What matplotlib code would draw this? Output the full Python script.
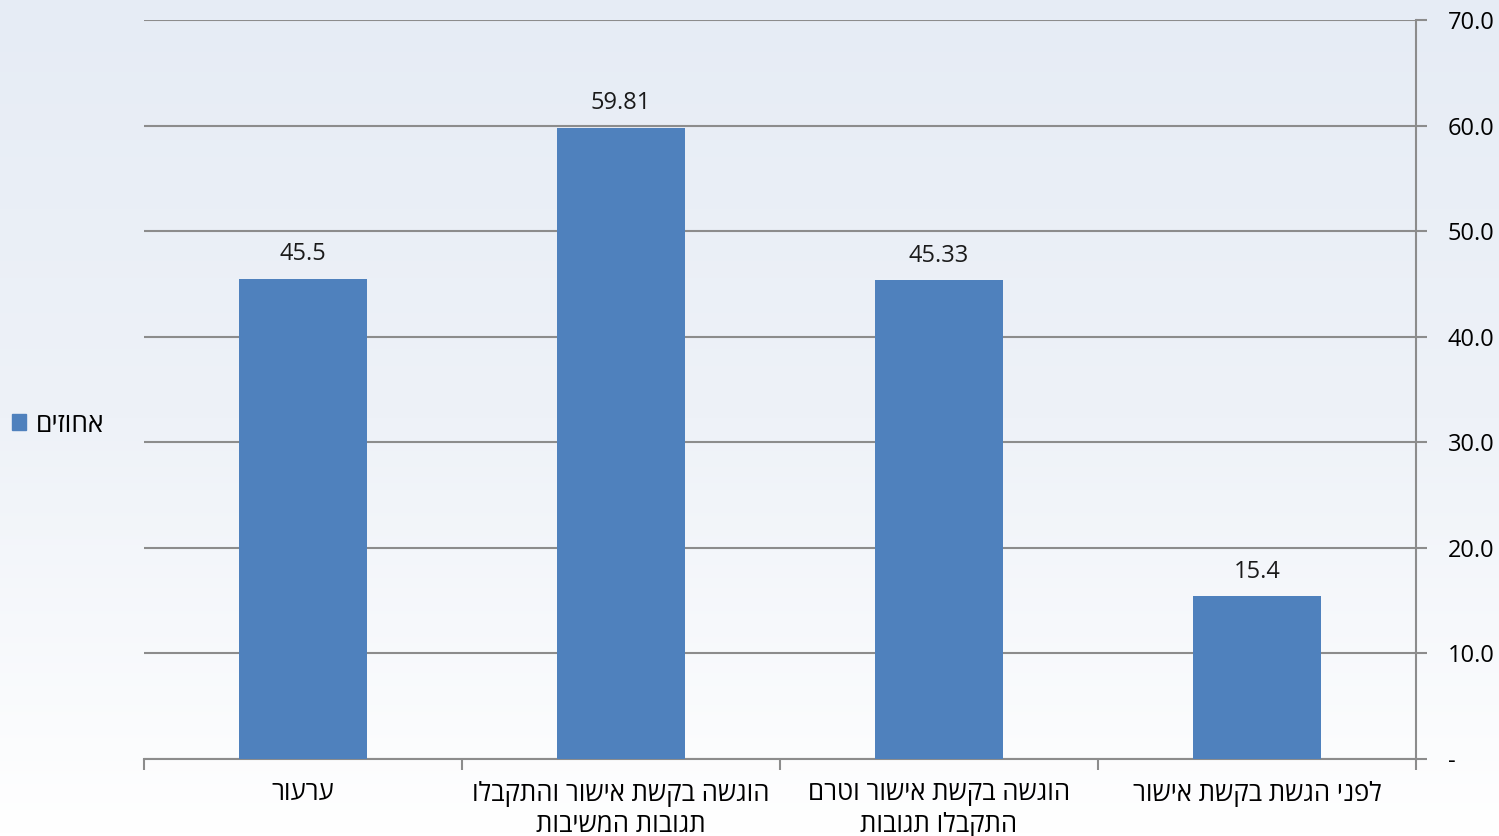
import numpy as np
import matplotlib
matplotlib.use("Agg")
import matplotlib.pyplot as plt
from matplotlib.patches import Patch

# data (right-to-left order, first category is drawn on the right)
categories = [
    "לפני הגשת בקשת אישור",
    "הוגשה בקשת אישור וטרם\nהתקבלו תגובות",
    "הוגשה בקשת אישור והתקבלו\nתגובות המשיבות",
    "ערעור",
]
values = [15.4, 45.33, 59.81, 45.5]
value_labels = ["15.4", "45.33", "59.81", "45.5"]
series_name = "אחוזים"
y_ticks = [0, 10, 20, 30, 40, 50, 60, 70]


def heb(s):
    # matplotlib has no bidi support, so flip each line into visual order
    return "\n".join(line[::-1] for line in s.split("\n"))


plt.rcParams['font.family'] = ['Open Sans', 'DejaVu Sans']
bar_color = "#4F81BD"
grid_color = "#8C8C8C"

fig = plt.figure(figsize=(14.99, 8.36), dpi=100)

# faint backdrop standing in for the washed-out photo
bg = fig.add_axes([0, 0, 1, 1], zorder=-10)
grad = np.linspace(0, 1, 256).reshape(-1, 1)
cmap = matplotlib.colors.LinearSegmentedColormap.from_list("bg", ["#E6ECF5", "#EEF2F8", "#FFFFFF"])
bg.imshow(grad, aspect="auto", cmap=cmap, extent=[0, 1, 0, 1])
bg.axis("off")

ax = fig.add_axes([144 / 1499, 1 - 759 / 836, (1416 - 144) / 1499, (759 - 20) / 836])
ax.patch.set_alpha(0)

x = np.arange(len(categories))
bars = ax.bar(x, values, width=0.4, color=bar_color, zorder=3)

for xi, v, lab in zip(x, values, value_labels):
    ax.text(xi, v + 1.2, lab, ha="center", va="bottom", fontsize=17, color="#1a1a1a")

ax.set_xlim(-0.5, len(categories) - 0.5)
ax.invert_xaxis()
ax.set_ylim(0, 70)

# y axis on the right
ax.yaxis.tick_right()
ax.set_yticks(y_ticks)
ax.set_yticklabels(["-"] + [f"{t:.1f}" for t in y_ticks[1:]], fontsize=17)
ax.tick_params(axis="y", direction="out", length=8, width=1.5, color=grid_color, pad=15)
ax.grid(axis="y", color=grid_color, linewidth=1.5, zorder=0)

# category ticks between groups, labels centred under bars
ax.set_xticks(np.arange(-0.5, len(categories), 1.0))
ax.set_xticklabels([])
ax.set_xticks(x, minor=True)
ax.set_xticklabels([heb(c) for c in categories], minor=True, fontsize=18.5, linespacing=1.3)
ax.tick_params(axis="x", which="minor", length=0, pad=16)
ax.tick_params(axis="x", which="major", direction="out", length=8, width=1.5, color=grid_color)

for side in ["top", "left"]:
    ax.spines[side].set_visible(False)
ax.spines["bottom"].set_color(grid_color)
ax.spines["bottom"].set_linewidth(1.5)
ax.spines["right"].set_color(grid_color)
ax.spines["right"].set_linewidth(1.5)

fig.legend(handles=[Patch(color=bar_color, label=heb(series_name))],
           loc="center left", bbox_to_anchor=(-0.008, 1 - 425 / 836),
           frameon=False, fontsize=19, handlelength=0.55, handleheight=0.55,
           handletextpad=0.35)

fig.savefig("out.png", dpi=100)
